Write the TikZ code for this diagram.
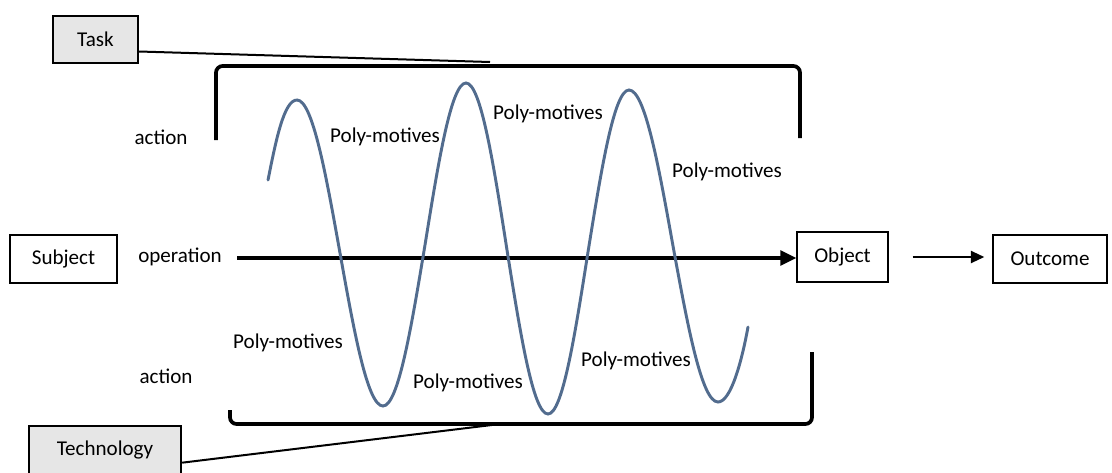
\documentclass[tikz,border=0pt]{standalone}
\usepackage{fontspec}
\setmainfont{Carlito}
\usetikzlibrary{arrows.meta,calc}
\definecolor{wave}{RGB}{82,108,142}
\definecolor{boxgray}{RGB}{230,230,230}
\tikzset{
  lbl/.style={font=\fontsize{15.8}{18}\selectfont, inner sep=0pt},
  plainbox/.style={draw=black, line width=1.1pt, fill=white, font=\fontsize{15.8}{18}\selectfont, inner sep=0pt},
  graybox/.style={draw=black, line width=1.8pt, fill=boxgray, font=\fontsize{15.8}{18}\selectfont, inner sep=0pt},
  bracket/.style={draw=black, line width=2.8pt, rounded corners=5pt},
  link/.style={draw=black, line width=1.5pt},
  wavepath/.style={draw=wave, line width=2.2pt}
}
\begin{document}
\begin{tikzpicture}[x=0.75pt,y=-0.75pt]
\clip (0,0) rectangle (1112,472);
\fill[white] (0,0) rectangle (1112,472);

% boxes
\node[graybox, minimum width=63.75pt, minimum height=35.25pt] (task) at (95.5,39.5) {Task};
\node[graybox, minimum width=114pt, minimum height=36pt] (tech) at (105,450) {Technology};
\node[plainbox, minimum width=80pt, minimum height=36pt] (subject) at (63.5,259) {Subject};
\node[plainbox, minimum width=68pt, minimum height=37.5pt] (object) at (842.5,257) {Object};
\node[plainbox, minimum width=85.5pt, minimum height=36pt] (outcome) at (1050,259) {Outcome};

% brackets
\coordinate (tl) at (216,140);
\coordinate (tr) at (800,138);
\coordinate (taskend) at (490,62);
\draw[bracket] (tl) -- (216,66) -- (800,66) -- (tr);
\coordinate (bl) at (230,410);
\coordinate (br) at (812,352);
\coordinate (techend) at (500,424);
\draw[bracket] (bl) -- (230,424) -- (812,424) -- (br);

% links to brackets
\draw[link] ([yshift=-9pt]task.east) -- (taskend);
\draw[link] ([yshift=-9.5pt]tech.east) -- (techend);

% labels
\node[lbl] (act1) at (161,137) {action};
\node[lbl] (act2) at (166,376) {action};
\node[lbl] (oper) at (180,257) {operation};
\node[lbl] (pm1) at (385,137) {Poly-motives};
\node[lbl] (pm2) at (548,114) {Poly-motives};
\node[lbl] (pm3) at (727,172) {Poly-motives};
\node[lbl] (pm4) at (288,343) {Poly-motives};
\node[lbl] (pm5) at (468,383) {Poly-motives};
\node[lbl] (pm6) at (636,361) {Poly-motives};

% arrows
\coordinate (opstart) at (237,258);
\draw[draw=black, line width=2.3pt, -{Triangle[length=12pt,width=11pt]}] (opstart) -- (object.west |- opstart);
\draw[link, -{Triangle[length=10pt,width=9pt]}, shorten <=18pt, shorten >=6pt] (object.east) -- (outcome.west |- object.east);

% wave
\draw[wavepath, line cap=round]
  (268,180) .. controls (276,140) and (284,100) .. (297,100)
  cos (340,253) sin (383,406) cos (425,245) sin (466,83)
  cos (507,250) sin (548,414) cos (588,252) sin (629,90)
  cos (673,246) sin (718,402)
  .. controls (731,402) and (742,360) .. (748,327);
\end{tikzpicture}
\end{document}
